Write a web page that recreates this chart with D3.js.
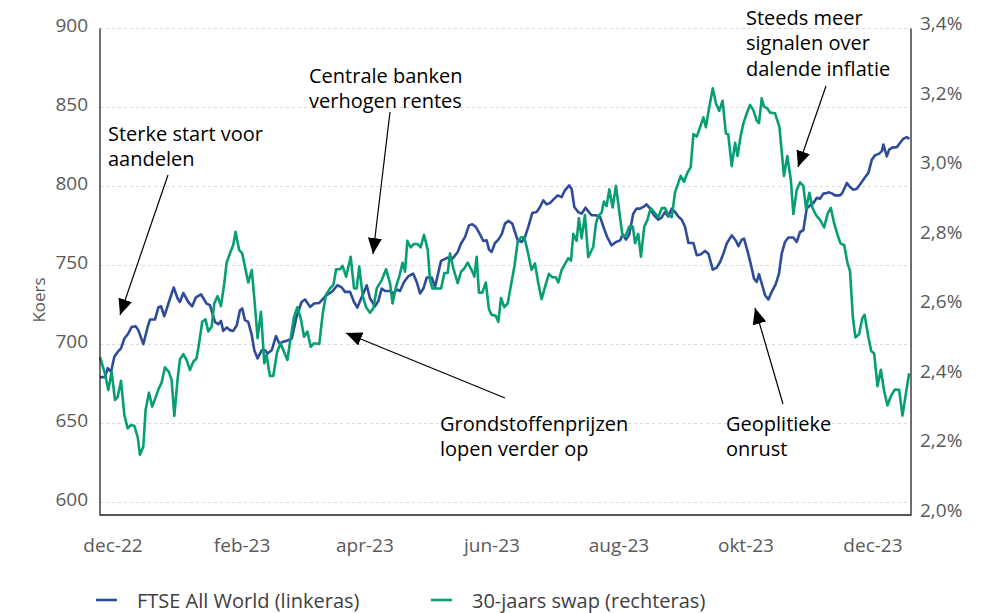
<!DOCTYPE html>
<html>
<head>
<meta charset="utf-8">
<script src="https://cdn.jsdelivr.net/npm/d3@7"></script>
<style>
  html, body { margin: 0; padding: 0; background: #fff; }
  svg { display: block; font-family: "Open Sans", "Noto Sans", sans-serif; }
</style>
</head>
<body>
<svg id="chart" width="994" height="613"></svg>
<script>
// ---------------- DATA ----------------
// day offsets from the first observation (25 Nov 2022) and values
const startDate = new Date(2022, 10, 25);
const endDate = new Date(2023, 11, 19, 12);

const ftseSeries = [[0,679.2],[2.4,679.5],[3.7,685.0],[5.3,682.7],[6.9,692.2],[8.5,695.3],[10.1,697.5],[11.7,703.8],[13.6,707.0],[15.2,711.1],[17.1,711.6],[18.4,709.1],[20.8,700.2],[22.9,711.1],[24.0,715.8],[26.4,715.8],[28.0,723.4],[29.3,724.2],[30.9,717.9],[33.1,726.9],[35.4,736.1],[37.3,729.1],[38.4,726.9],[40.0,732.6],[42.4,726.9],[44.3,724.2],[46.0,729.7],[48.5,731.8],[51.2,725.9],[52.8,724.9],[55.2,714.3],[56.8,712.8],[58.1,714.9],[59.2,708.6],[60.9,710.8],[62.4,709.1],[64.0,708.6],[65.7,712.2],[67.2,721.7],[68.3,722.8],[69.6,715.4],[71.2,714.3],[72.9,705.9],[74.1,696.4],[75.7,691.2],[77.7,696.4],[79.3,696.4],[80.4,694.3],[82.5,696.4],[84.5,705.3],[86.1,700.6],[87.8,701.7],[89.7,702.3],[92.1,703.8],[94.4,717.5],[96.8,726.9],[98.5,728.5],[100.9,723.8],[102.8,725.9],[105.3,726.3],[107.2,729.1],[108.9,731.2],[111.8,733.9],[114.0,737.5],[116.1,736.1],[117.7,733.3],[120.1,733.3],[122.0,726.9],[123.6,723.4],[124.9,727.6],[126.5,732.3],[128.1,737.5],[129.7,729.1],[132.1,724.2],[133.7,727.6],[135.3,735.4],[136.9,733.9],[139.3,733.9],[140.8,732.3],[142.5,734.8],[144.1,733.9],[146.0,739.6],[148.1,743.2],[150.4,744.9],[152.1,739.6],[153.7,732.3],[155.3,735.4],[156.9,742.4],[159.3,742.4],[160.9,736.4],[163.8,752.9],[167.0,755.0],[168.6,753.3],[170.2,755.8],[171.8,758.6],[173.4,763.9],[175.3,768.0],[177.2,775.4],[178.8,776.1],[180.5,774.4],[182.5,769.7],[184.1,765.5],[185.7,765.9],[186.8,760.1],[188.1,758.6],[189.7,764.2],[191.3,766.4],[192.9,769.7],[194.5,776.5],[196.1,778.2],[198.0,776.5],[199.3,771.2],[200.6,766.0],[202.5,764.9],[204.1,768.0],[205.7,774.4],[207.6,783.2],[209.7,783.8],[211.3,787.0],[212.9,791.2],[214.5,788.7],[216.1,789.5],[217.7,791.7],[219.8,794.4],[221.7,793.3],[223.3,797.6],[225.3,800.7],[226.5,798.6],[227.8,787.0],[229.7,783.8],[231.3,782.8],[233.2,786.6],[234.8,783.8],[236.1,781.8],[238.2,781.8],[240.2,780.7],[241.8,774.4],[243.6,768.0],[245.7,762.8],[247.8,764.9],[249.8,765.9],[251.0,769.7],[252.6,766.4],[254.2,769.7],[256.1,782.8],[257.7,786.0],[259.4,786.0],[261.3,787.4],[262.5,788.7],[264.2,786.0],[266.1,781.8],[268.1,779.0],[269.7,780.3],[271.3,783.8],[272.9,781.1],[274.6,786.0],[276.2,783.8],[277.7,781.1],[279.4,779.0],[281.0,774.4],[282.6,764.2],[285.0,764.2],[286.6,756.5],[288.6,757.1],[290.6,759.2],[292.2,757.5],[294.3,747.4],[296.2,748.7],[297.8,752.2],[299.4,757.5],[301.0,763.9],[303.4,769.1],[305.5,765.5],[306.6,762.2],[308.2,766.4],[309.3,767.0],[310.9,759.6],[312.5,751.2],[314.1,741.7],[315.4,739.6],[316.5,744.5],[317.8,738.6],[319.4,731.2],[321.0,728.5],[322.6,733.3],[324.5,738.1],[326.1,744.9],[327.4,757.5],[329.0,764.9],[330.6,767.7],[333.0,767.7],[334.6,764.9],[336.2,771.2],[337.8,772.3],[339.4,786.0],[341.0,788.1],[342.6,789.5],[344.3,792.9],[345.8,792.3],[347.4,795.5],[349.1,795.9],[350.1,796.3],[351.7,795.5],[353.0,794.4],[355.4,794.4],[356.5,795.9],[358.7,802.2],[360.2,799.7],[361.8,798.0],[363.5,798.6],[365.5,802.2],[367.5,806.0],[369.0,808.5],[370.7,817.0],[372.2,819.7],[374.2,820.8],[375.5,822.4],[376.2,826.6],[377.9,819.1],[379.0,823.3],[380.5,824.6],[382.7,824.9],[384.2,827.5],[385.8,830.2],[387.4,831.3],[388.7,830.2]];

const swapSeries = [[0,2.454],[2.4,2.406],[4.0,2.360],[5.6,2.412],[7.2,2.331],[8.5,2.340],[10.1,2.386],[11.7,2.288],[13.3,2.249],[14.9,2.259],[16.5,2.256],[18.1,2.225],[19.2,2.173],[20.8,2.197],[21.9,2.302],[23.5,2.352],[25.1,2.312],[26.8,2.340],[28.3,2.365],[29.6,2.381],[31.2,2.425],[33.1,2.412],[34.4,2.388],[35.7,2.285],[37.3,2.393],[38.4,2.448],[40.0,2.463],[41.6,2.446],[43.2,2.417],[44.8,2.441],[46.4,2.451],[47.6,2.494],[49.1,2.556],[50.7,2.563],[52.0,2.528],[53.6,2.542],[54.9,2.609],[56.5,2.630],[58.1,2.601],[59.7,2.667],[60.8,2.726],[62.4,2.753],[64.0,2.777],[65.1,2.815],[66.8,2.763],[68.3,2.753],[69.6,2.715],[71.2,2.669],[72.9,2.705],[74.1,2.624],[75.7,2.509],[77.3,2.585],[78.9,2.437],[80.0,2.460],[81.6,2.400],[83.2,2.400],[85.1,2.470],[86.7,2.494],[88.4,2.469],[90.0,2.446],[91.6,2.511],[93.2,2.571],[94.8,2.598],[96.4,2.566],[98.0,2.513],[99.6,2.528],[101.2,2.484],[102.8,2.494],[105.3,2.492],[107.0,2.580],[108.5,2.633],[110.5,2.652],[112.1,2.662],[113.4,2.707],[115.3,2.707],[116.5,2.717],[118.2,2.686],[120.4,2.743],[122.0,2.652],[123.3,2.652],[124.5,2.715],[126.2,2.630],[127.8,2.598],[129.7,2.582],[131.3,2.595],[132.9,2.652],[135.3,2.676],[137.4,2.707],[139.3,2.667],[140.5,2.609],[142.2,2.657],[143.8,2.688],[145.3,2.726],[146.5,2.700],[147.6,2.789],[149.2,2.770],[150.8,2.780],[152.4,2.780],[154.0,2.770],[155.6,2.806],[157.4,2.763],[158.5,2.676],[159.6,2.652],[163.8,2.652],[165.4,2.696],[167.0,2.697],[168.1,2.753],[169.7,2.710],[171.8,2.667],[173.4,2.700],[175.0,2.710],[176.6,2.726],[178.5,2.705],[179.8,2.686],[180.9,2.743],[182.0,2.640],[183.6,2.640],[185.3,2.669],[186.8,2.592],[188.1,2.576],[190.1,2.573],[191.3,2.556],[192.6,2.624],[194.2,2.598],[195.8,2.609],[197.4,2.662],[199.0,2.715],[200.6,2.786],[202.2,2.799],[203.8,2.799],[205.4,2.758],[207.3,2.705],[208.9,2.724],[210.5,2.667],[212.1,2.621],[214.0,2.662],[215.6,2.694],[217.3,2.684],[218.9,2.684],[220.1,2.669],[221.7,2.705],[223.3,2.722],[224.9,2.739],[226.2,2.732],[227.3,2.809],[228.9,2.789],[230.0,2.854],[231.3,2.796],[232.9,2.863],[234.5,2.742],[236.9,2.772],[238.2,2.839],[239.3,2.860],[240.9,2.870],[242.0,2.902],[243.3,2.889],[244.6,2.937],[246.2,2.885],[247.8,2.947],[249.4,2.873],[251.0,2.801],[252.6,2.806],[254.2,2.830],[255.9,2.830],[257.0,2.782],[258.5,2.809],[259.8,2.743],[261.4,2.830],[262.9,2.849],[264.5,2.883],[266.6,2.868],[268.1,2.857],[269.8,2.883],[271.4,2.883],[272.9,2.863],[274.6,2.857],[276.2,2.930],[277.7,2.955],[278.9,2.976],[280.5,2.959],[282.1,2.985],[283.7,3.001],[285.0,3.096],[286.6,3.089],[288.2,3.116],[289.8,3.144],[291.0,3.116],[292.6,3.173],[294.3,3.228],[295.8,3.185],[297.4,3.163],[299.0,3.192],[300.6,3.098],[301.7,3.096],[303.4,3.004],[305.0,3.071],[306.2,3.033],[307.7,3.091],[309.0,3.127],[310.6,3.156],[312.2,3.180],[313.8,3.165],[315.4,3.135],[316.5,3.128],[317.8,3.199],[318.9,3.175],[320.5,3.170],[321.8,3.158],[324.2,3.156],[326.3,3.117],[328.5,2.976],[330.1,3.033],[331.8,2.964],[333.0,2.866],[334.6,2.935],[336.2,2.957],[337.8,2.947],[339.1,2.881],[340.7,2.927],[342.1,2.885],[343.9,2.863],[345.8,2.849],[347.8,2.828],[349.4,2.866],[351.0,2.884],[352.6,2.839],[354.4,2.803],[355.7,2.781],[357.4,2.777],[358.9,2.728],[360.2,2.702],[361.6,2.568],[362.8,2.511],[364.6,2.521],[366.1,2.566],[367.2,2.576],[369.0,2.513],[370.4,2.472],[371.8,2.465],[373.4,2.371],[375.0,2.418],[376.6,2.357],[378.2,2.315],[379.8,2.342],[381.7,2.361],[383.8,2.360],[385.4,2.286],[387.2,2.355],[388.6,2.408]];

const xTickDates = ["2022-12-01","2023-02-01","2023-04-01","2023-06-01","2023-08-01","2023-10-01","2023-12-01"];
const xTickLabels = ["dec-22","feb-23","apr-23","jun-23","aug-23","okt-23","dec-23"];
const leftTicks = [600, 650, 700, 750, 800, 850, 900];
const rightTicks = [2.0, 2.2, 2.4, 2.6, 2.8, 3.0, 3.2, 3.4];
const rightTickLabels = ["2,0%","2,2%","2,4%","2,6%","2,8%","3,0%","3,2%","3,4%"];
const seriesNames = ["FTSE All World (linkeras)", "30-jaars swap (rechteras)"];
const annotations = [
  {lines: ["Sterke start voor", "aandelen"], x: 108, y: 133, from: [168, 175], to: [120, 315]},
  {lines: ["Centrale banken", "verhogen rentes"], x: 309, y: 75, from: [390, 112], to: [373, 254]},
  {lines: ["Steeds meer", "signalen over", "dalende inflatie"], x: 746, y: 17, from: [826, 86], to: [798, 167]},
  {lines: ["Grondstoffenprijzen", "lopen verder op"], x: 440, y: 423, from: [505, 398], to: [346, 333]},
  {lines: ["Geoplitieke", "onrust"], x: 726, y: 423, from: [783, 404], to: [755, 308]}
];

// ---------------- LAYOUT ----------------
const L = 100, R = 911, T = 28.5, B = 515;
const colors = ["#2f4b9c", "#079e73"];
const svg = d3.select("#chart");
svg.append("rect").attr("width", 994).attr("height", 613).attr("fill", "#fff");

const toDate = d => d3.timeMinute.offset(startDate, Math.round(d * 1440));
const x = d3.scaleTime().domain([startDate, endDate]).range([L, R]);
const yLeft = d3.scaleLinear().domain([600, 900]).range([502.5, T]);
const yRight = d3.scaleLinear().domain([2.0, 3.4]).range([B, T]);

// gridlines
svg.append("g").selectAll("line").data(leftTicks).join("line")
  .attr("x1", L).attr("x2", R)
  .attr("y1", d => yLeft(d)).attr("y2", d => yLeft(d))
  .attr("stroke", "#d9d9d9").attr("stroke-width", 1).attr("stroke-dasharray", "3,3");

// series
const lineL = d3.line().x(d => x(toDate(d[0]))).y(d => yLeft(d[1]));
const lineR = d3.line().x(d => x(toDate(d[0]))).y(d => yRight(d[1]));
svg.append("path").datum(ftseSeries).attr("d", lineL).attr("fill", "none")
  .attr("stroke", colors[0]).attr("stroke-width", 2.6).attr("stroke-linejoin", "round");
svg.append("path").datum(swapSeries).attr("d", lineR).attr("fill", "none")
  .attr("stroke", colors[1]).attr("stroke-width", 2.6).attr("stroke-linejoin", "round");

// frame
svg.append("path").attr("d", `M${L},${T}V${B}H${R}V${T}`).attr("fill", "none")
  .attr("stroke", "#222").attr("stroke-width", 1.3);

// axes
const axisFont = g => g.selectAll("text").attr("font-size", 19).attr("fill", "#595959")
  .attr("font-family", "'Open Sans', sans-serif");

const xAxis = d3.axisBottom(x).tickValues(xTickDates.map(s => d3.timeParse("%Y-%m-%d")(s)))
  .tickFormat((d, i) => xTickLabels[i]).tickSize(0).tickPadding(24);
svg.append("g").attr("transform", `translate(0,${B})`).call(xAxis).call(g => g.select(".domain").remove()).call(axisFont);

const yAxisL = d3.axisLeft(yLeft).tickValues(leftTicks).tickFormat(d3.format("d")).tickSize(0).tickPadding(12);
svg.append("g").attr("transform", `translate(${L},0)`).call(yAxisL).call(g => g.select(".domain").remove())
  .call(axisFont).call(g => g.selectAll("text").attr("dy", "0.14em"));

const yAxisR = d3.axisRight(yRight).tickValues(rightTicks).tickFormat((d, i) => rightTickLabels[i]).tickSize(0).tickPadding(9);
svg.append("g").attr("transform", `translate(${R},0)`).call(yAxisR).call(g => g.select(".domain").remove())
  .call(axisFont).call(g => g.selectAll("text").attr("dy", "0.06em"));

svg.append("text").text("Koers").attr("transform", "translate(38,300) rotate(-90)")
  .attr("text-anchor", "middle").attr("dominant-baseline", "central")
  .attr("font-size", 17).attr("fill", "#595959");

// annotations
const defs = svg.append("defs");
defs.append("marker").attr("id", "arrow").attr("markerUnits", "userSpaceOnUse")
  .attr("viewBox", "0 0 16 14").attr("refX", 16).attr("refY", 7)
  .attr("markerWidth", 16).attr("markerHeight", 14).attr("orient", "auto")
  .append("path").attr("d", "M0,0L16,7L0,14Z").attr("fill", "#000");

annotations.forEach(a => {
  svg.append("line").attr("x1", a.from[0]).attr("y1", a.from[1]).attr("x2", a.to[0]).attr("y2", a.to[1])
    .attr("stroke", "#000").attr("stroke-width", 1.2).attr("marker-end", "url(#arrow)");
  const t = svg.append("text").attr("font-size", 20).attr("fill", "#000");
  a.lines.forEach((ln, i) => {
    t.append("tspan").attr("x", a.x).attr("y", a.y + i * 25.5).attr("dominant-baseline", "central").text(ln);
  });
});

// legend
const legendX = [96, 431];
seriesNames.forEach((n, i) => {
  svg.append("line").attr("x1", legendX[i]).attr("x2", legendX[i] + 21).attr("y1", 600).attr("y2", 600)
    .attr("stroke", colors[i]).attr("stroke-width", 2.6);
  svg.append("text").attr("x", legendX[i] + 41).attr("y", 600).attr("dominant-baseline", "central")
    .attr("font-size", 20).attr("fill", "#404040").text(n);
});
</script>
</body>
</html>
